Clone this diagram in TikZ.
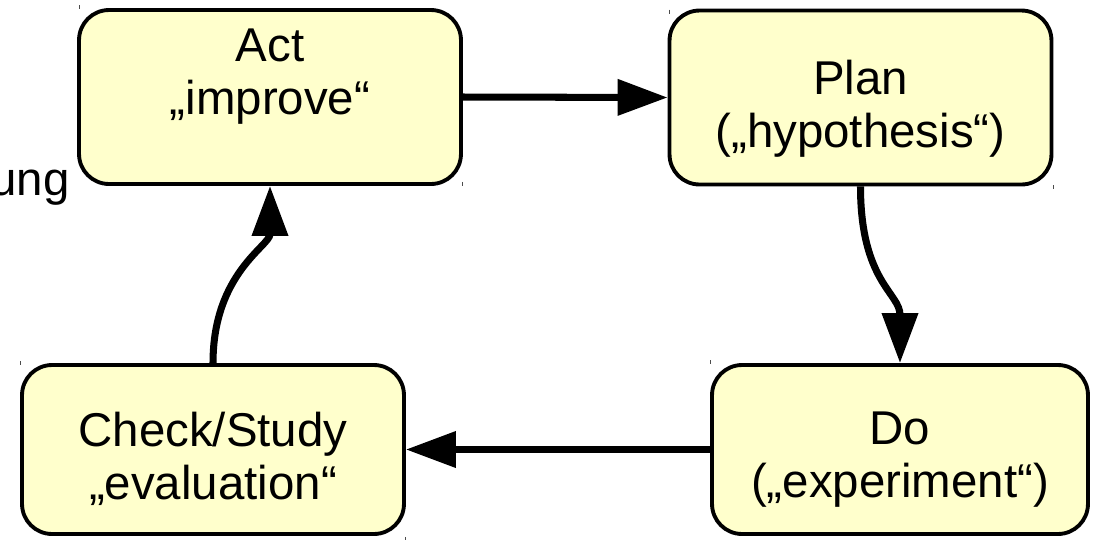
\documentclass[tikz,border=0pt]{standalone}
\usepackage{fontspec}
\setmainfont{Liberation Sans}
\usetikzlibrary{positioning,arrows.meta}
\definecolor{boxfill}{RGB}{255,255,204}

\begin{document}
\begin{tikzpicture}[x=0.02cm, y=-0.02cm,
  phase/.style={rectangle, rounded corners=0.6cm, draw, line width=2.2pt, fill=boxfill,
    align=center, minimum width=7.64cm, minimum height=3.48cm, font=\fontsize{27}{30}\selectfont},
  flow/.style={line width=4pt, -{Triangle[length=1cm, width=0.7cm]}},
  tick/.style={line width=0.5pt, black!70}]

\useasboundingbox (0,0) rectangle (1093,539);

\node[phase] (act) at (270,97) {Act\\„improve“\rule[-1cm]{0pt}{0pt}};
\node[phase] (plan) at (860.5,97.5) {\rule{0pt}{1.15cm}Plan\\(„hypothesis“)};
\node[phase, minimum height=3.38cm] (check) at (213,449.5) {\rule{0pt}{1.05cm}Check/Study\\„evaluation“};
\node[phase, minimum width=7.52cm, minimum height=3.38cm] (do) at (900,449.5) {\rule{0pt}{1.05cm}Do\\(„experiment“)};
\node[anchor=base east, inner sep=0pt, font=\fontsize{27}{30}\selectfont] (cut) at (70,195) {ung};

\draw[flow] (act.east) -- (plan.west);
\draw[flow] (plan.south) .. controls +(0,95) and +(0,-70) .. (do.north);
\draw[flow] (do.west) -- (check.east);
\draw[flow] (check.north) .. controls +(0,-90) and +(0,60) .. (act.south);

% little marks at the box corners
\draw[tick] (act.north west) ++(2,-3) -- +(0,4);
\draw[tick] (act.south east) ++(0,-4) -- +(0,4);
\draw[tick] (plan.north west) ++(2,1) -- +(0,4);
\draw[tick] (plan.south east) ++(0,-1) -- +(0,4);
\draw[tick] (check.north west) ++(0,-2) -- +(0,4);
\draw[tick] (check.south east) ++(0,1) -- +(0,3);
\draw[tick] (do.north west) ++(0,-3) -- +(0,4);

\end{tikzpicture}
\end{document}
